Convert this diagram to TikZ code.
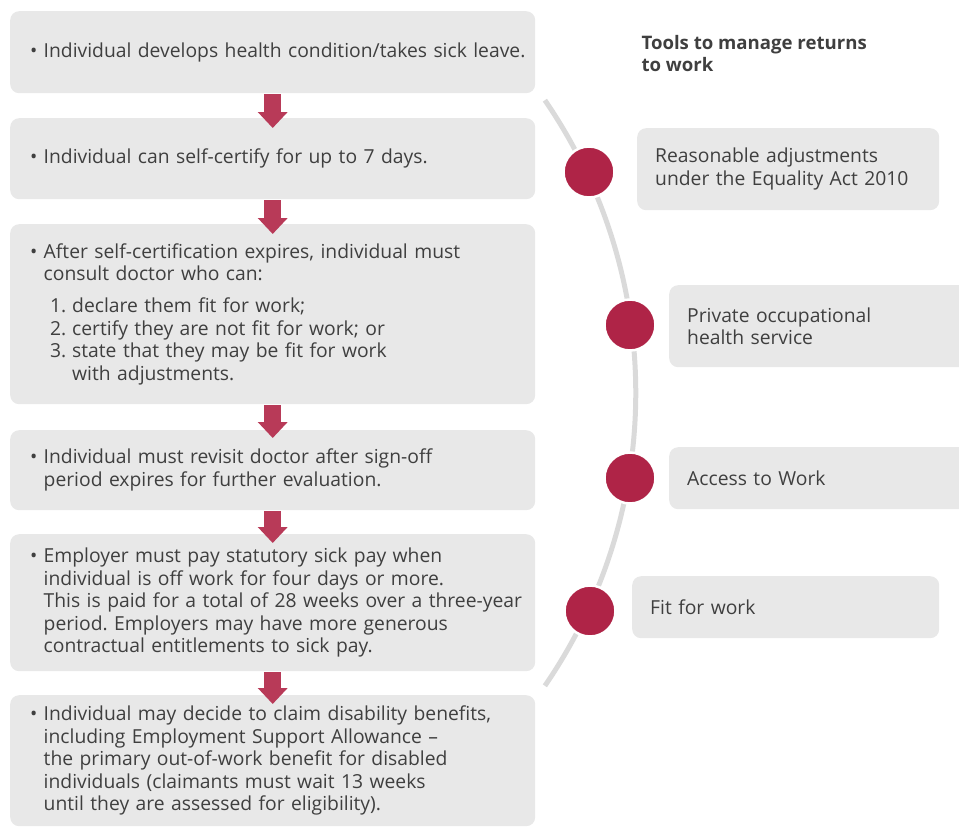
\documentclass[tikz,border=0pt]{standalone}
\usepackage{fontspec}
\setmainfont{Open Sans}
\usetikzlibrary{arrows.meta}
\definecolor{boxgray}{HTML}{E8E8E8}
\definecolor{textgray}{HTML}{3F3F3F}
\definecolor{arrowred}{HTML}{B83A58}
\definecolor{dotred}{HTML}{AF2447}
\definecolor{arcgray}{HTML}{DADADA}
\frenchspacing
\newcommand{\bodyfont}{\fontsize{19.3}{22.6}\selectfont}
\newcommand{\bulitem}[1]{\mbox{\hspace*{-2pt}\makebox[13.5pt][l]{\textbullet}#1}}
\newcommand{\bulcont}[1]{\mbox{\hspace*{11.5pt}#1}}
\newcommand{\listitem}[2]{\mbox{\hspace*{18pt}\makebox[22pt][l]{#1}#2}}
\begin{document}
\begin{tikzpicture}[x=1pt,y=1pt,
  stepbox/.style={fill=boxgray,rounded corners=9pt,anchor=north west,text width=481pt,inner xsep=22pt,inner ysep=3pt,align=left,text=textgray,font=\bodyfont},
  toolbox/.style={fill=boxgray,rounded corners=9pt,anchor=north west,inner xsep=18pt,inner ysep=3pt,align=left,text=textgray,font=\bodyfont},
  tooldot/.style={circle,fill=dotred,draw=white,line width=2.5pt,minimum size=51pt,inner sep=0pt},
  flow/.style={draw=arrowred,line width=16.5pt,-{Triangle[width=29pt,length=16pt]}}]

  \useasboundingbox (0,0) rectangle (959,-827);

  \draw[arcgray,line width=5pt] (118.8,-393) ++(34.5:517) arc[start angle=34.5,end angle=-34.5,radius=517];

  \node[stepbox,minimum height=82pt] (s1) at (10,-11) {\bulitem{Individual develops health condition/takes sick leave.}};
  \node[stepbox,minimum height=81pt] (s2) at (10,-118) {\bulitem{Individual can self-certify for up to 7 days.}};
  \node[stepbox,minimum height=180pt] (s3) at (10,-224) {\bulitem{After self-certification expires, individual must}\\
    \bulcont{consult doctor who can:}\\[9pt]
    \listitem{1.}{declare them fit for work;}\\
    \listitem{2.}{certify they are not fit for work; or}\\
    \listitem{3.}{state that they may be fit for work}\\
    \listitem{}{with adjustments.}};
  \node[stepbox,minimum height=80pt] (s4) at (10,-430) {\bulitem{Individual must revisit doctor after sign-off}\\
    \bulcont{period expires for further evaluation.}};
  \node[stepbox,minimum height=137pt] (s5) at (10,-534) {\bulitem{Employer must pay statutory sick pay when}\\
    \bulcont{individual is off work for four days or more.}\\
    \bulcont{This is paid for a total of 28 weeks over a three-year}\\
    \bulcont{period. Employers may have more generous}\\
    \bulcont{contractual entitlements to sick pay.}};
  \node[stepbox,minimum height=131pt,yshift=-2pt,inner ysep=5pt] (s6) at (10,-693) {\bulitem{Individual may decide to claim disability benefits,}\\
    \bulcont{including Employment Support Allowance --}\\
    \bulcont{the primary out-of-work benefit for disabled}\\
    \bulcont{individuals (claimants must wait 13 weeks}\\
    \bulcont{until they are assessed for eligibility).}};

  \draw[flow] ([yshift=-1pt]s1.south) -- ([yshift=-10pt]s2.north);
  \draw[flow] ([yshift=-1pt]s2.south) -- ([yshift=-10pt]s3.north);
  \draw[flow] ([yshift=-1pt]s3.south) -- ([yshift=-8pt]s4.north);
  \draw[flow] ([yshift=-1pt]s4.south) -- ([yshift=-9pt]s5.north);
  \draw[flow] ([yshift=-1pt]s5.south) -- ([yshift=-9pt]s6.north);

  \node[anchor=west,align=left,text=textgray,font=\fontsize{18.6}{22}\selectfont\bfseries] (title) at (638,-54) {Tools to manage returns\\to work};

  \node[toolbox,text width=266pt,minimum height=82pt] (t1) at (637,-128) {Reasonable adjustments\\under the Equality Act 2010};
  \node[toolbox,text width=264pt,minimum height=82pt] (t2) at (669,-285) {Private occupational\\health service};
  \node[toolbox,text width=264pt,minimum height=62pt] (t3) at (669,-447) {Access to Work};
  \node[toolbox,text width=271pt,minimum height=62pt] (t4) at (632,-576) {Fit for work};

  \node[tooldot] (c1) at (589,-172) {};
  \node[tooldot] (c2) at (630,-325) {};
  \node[tooldot] (c3) at (630,-478) {};
  \node[tooldot] (c4) at (590,-611) {};
\end{tikzpicture}
\end{document}
